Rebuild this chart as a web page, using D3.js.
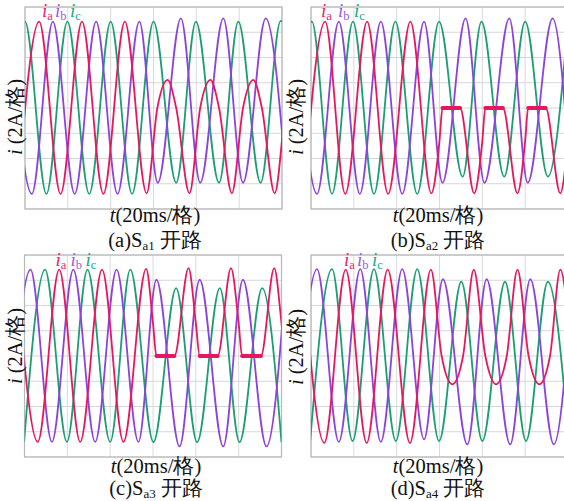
<!DOCTYPE html>
<html><head><meta charset="utf-8">
<script src="https://cdn.jsdelivr.net/npm/d3@7"></script>
<style>body{margin:0;background:#fff;overflow:hidden} svg{display:block}</style>
</head><body>
<script>
// ---- data (time in 20 ms divisions, current in 2 A divisions) ----
const panelLetters = ["a", "b", "c", "d"];
const switchNames = ["a1", "a2", "a3", "a4"];
const phaseSubs = ["a", "b", "c"];
const xGrid = [0, 1, 2, 3, 4, 5, 6];
const yGrid = [-4, -3, -2, -1, 0, 1, 2, 3, 4];

// (a) Sa1 open
const ia_1 = [[-0.17,-3.4],[0.33,3.42],[0.83,-3.4],[1.33,3.42],[1.83,-3.4],[2.33,3.42],[2.84,-3.38],[3.09,0],[3.33,1.11],[3.53,0],[3.84,-3.38],[4.09,0],[4.33,1.11],[4.53,0],[4.83,-3.38],[5.09,0],[5.33,1.11],[5.53,0],[5.83,-3.38],[6.09,0],[6.33,1.11]];
const ib_1 = [[-0.35,3.42],[0.16,-3.4],[0.65,3.42],[1.16,-3.4],[1.66,3.42],[2.16,-3.4],[2.67,3.42],[3.1,-2.96],[3.64,3.55],[4.09,-2.96],[4.63,3.55],[5.09,-2.96],[5.62,3.55],[6.1,-2.96]];
const ic_1 = [[-0.5,-3.4],[0.0,3.42],[0.5,-3.4],[0.99,3.42],[1.5,-3.4],[2.0,3.42],[2.5,-3.4],[3.0,3.42],[3.53,-2.96],[3.99,3.42],[4.53,-2.96],[4.98,3.42],[5.5,-2.96],[5.97,3.45],[6.5,-2.96]];
// (b) Sa2 open
const ia_2 = [[-0.17,-3.4],[0.33,3.42],[0.8,-3.4],[1.31,3.42],[1.8,-3.4],[2.32,3.42],[2.81,-3.38],[3.0,-1.3],[3.07,0],[3.48,0],[3.81,-3.38],[4.0,-1.3],[4.07,0],[4.48,0],[4.82,-3.38],[5.0,-1.3],[5.07,0],[5.48,0],[5.82,-3.38],[6.0,-1.3],[6.07,0]];
const ib_2 = [[-0.35,3.42],[0.14,-3.4],[0.65,3.42],[1.14,-3.4],[1.63,3.42],[2.13,-3.4],[2.64,3.42],[3.07,-2.96],[3.61,3.55],[4.05,-2.96],[4.63,3.55],[5.06,-2.96],[5.64,3.55],[6.06,-2.96]];
const ic_2 = [[-0.5,-3.4],[0.02,3.42],[0.49,-3.4],[0.98,3.42],[1.47,-3.4],[1.97,3.42],[2.48,-3.4],[2.99,3.42],[3.54,-2.72],[3.98,3.42],[4.51,-2.72],[5.0,3.42],[5.53,-2.72],[6.0,3.42]];
// (c) Sa3 open
const ia_3 = [[-0.19,3.42],[0.31,-3.4],[0.81,3.42],[1.3,-3.4],[1.81,3.42],[2.31,-3.4],[2.84,3.45],[3.0,1.3],[3.08,0],[3.5,0],[3.83,3.48],[4.0,1.3],[4.09,0],[4.51,0],[4.82,3.48],[5.0,1.3],[5.08,0],[5.52,0],[5.83,3.48],[6.0,1.3],[6.08,0]];
const ib_3 = [[-0.36,-3.4],[0.14,3.42],[0.64,-3.4],[1.14,3.42],[1.65,-3.4],[2.15,3.42],[2.66,-3.4],[3.08,3.02],[3.62,-3.58],[4.09,3.02],[4.64,-3.58],[5.1,3.02],[5.65,-3.58],[6.1,3.02]];
const ic_3 = [[-0.01,-3.4],[0.48,3.42],[0.99,-3.4],[1.47,3.42],[2.0,-3.4],[2.47,3.42],[3.01,-3.41],[3.54,2.69],[4.03,-3.41],[4.56,2.69],[5.02,-3.41],[5.55,2.69],[6.0,-3.41]];
// (d) Sa4 open
const ia_4 = [[-0.19,3.42],[0.31,-3.44],[0.81,3.42],[1.3,-3.44],[1.79,3.42],[2.31,-3.44],[2.8,3.42],[3.05,0],[3.3,-1.12],[3.55,0],[3.8,3.42],[4.07,0],[4.32,-1.12],[4.57,0],[4.82,3.42],[5.08,0],[5.33,-1.12],[5.58,0],[5.82,3.42],[6.08,0]];
const ib_4 = [[-0.36,-3.4],[0.14,3.44],[0.65,-3.4],[1.15,3.44],[1.63,-3.4],[2.13,3.44],[2.64,-3.3],[3.08,3.04],[3.65,-3.5],[4.1,3.04],[4.65,-3.5],[5.12,3.04],[5.67,-3.5],[6.1,3.04]];
const ic_4 = [[-0.02,-3.37],[0.49,3.44],[0.97,-3.37],[1.47,3.44],[1.98,-3.37],[2.48,3.44],[2.99,-3.37],[3.51,2.94],[4.0,-3.37],[4.53,2.94],[5.02,-3.37],[5.53,2.94],[6.02,-3.37]];

const panelData = [[ia_1, ib_1, ic_1], [ia_2, ib_2, ic_2], [ia_3, ib_3, ic_3], [ia_4, ib_4, ic_4]];

// ---- layout & style ----
const colors = ["#e8175d", "#8c43dc", "#1c9e74"];
const legendColors = ["#ec1c6c", "#9d5ae0", "#1aa97e"];
const layout = [
  {x: 25, y: 7, ylabX: 22, ylabY: 117, xlabY: 222, capY: 247, cx: 155, leg: [17, 30, 45], legY: 17},
  {x: 311, y: 7, ylabX: 303, ylabY: 117, xlabY: 222, capY: 247, cx: 438, leg: [10, 27, 43], legY: 17},
  {x: 24.5, y: 255, ylabX: 22, ylabY: 346, xlabY: 473, capY: 495, cx: 156, leg: [31, 46, 61], legY: 266},
  {x: 311, y: 255, ylabX: 303, ylabY: 347, xlabY: 473, capY: 495, cx: 438, leg: [33, 46, 61], legY: 266}
];
const W = 257, H = 202;
const serif = "'Liberation Serif','Times New Roman',serif";
const fs = 20.5;

const svg = d3.select("body").append("svg").attr("width", 564).attr("height", 501);
const x = d3.scaleLinear().domain([0, 6]).range([0, W]);
const y = d3.scaleLinear().domain([-4, 4]).range([H, 0]);
const line = d3.line().x(d => x(d[0])).y(d => y(d[1])).curve(d3.curveMonotoneX);

panelData.forEach((series, i) => {
  const L = layout[i];
  const g = svg.append("g").attr("transform", `translate(${L.x},${L.y})`);
  svg.append("defs").append("clipPath").attr("id", "clip" + i)
    .append("rect").attr("width", W).attr("height", H);
  g.append("rect").attr("width", W).attr("height", H).attr("fill", "#fff");
  g.selectAll(".vg").data(xGrid).join("line")
    .attr("x1", d => x(d)).attr("x2", d => x(d)).attr("y1", 0).attr("y2", H)
    .attr("stroke", "#dadada").attr("stroke-width", 1);
  g.selectAll(".hg").data(yGrid).join("line")
    .attr("y1", d => y(d)).attr("y2", d => y(d)).attr("x1", 0).attr("x2", W)
    .attr("stroke", "#d6d6d6").attr("stroke-width", 1);
  g.append("rect").attr("width", W).attr("height", H).attr("fill", "none")
    .attr("stroke", "#b8b8b8").attr("stroke-width", 1.2);
  const pg = g.append("g").attr("clip-path", `url(#clip${i})`);
  [2, 1, 0].forEach(k => {
    pg.append("path").datum(series[k]).attr("d", line)
      .attr("fill", "none").attr("stroke", colors[k]).attr("stroke-width", 1.8)
      .attr("stroke-linejoin", "round");
  });
  // thicker noisy clamp segments (consecutive zero points in phase a)
  const ia = series[0];
  for (let j = 0; j < ia.length - 1; j++) {
    if (ia[j][1] === 0 && ia[j + 1][1] === 0) {
      pg.append("line").attr("x1", x(ia[j][0])).attr("x2", x(ia[j + 1][0]))
        .attr("y1", y(0)).attr("y2", y(0))
        .attr("stroke", colors[0]).attr("stroke-width", 4).attr("stroke-linecap", "round");
    }
  }
  // legend
  phaseSubs.forEach((s, k) => {
    const t = svg.append("text").attr("x", L.x + L.leg[k]).attr("y", L.legY)
      .attr("fill", legendColors[k]).attr("font-family", serif).attr("font-size", 19);
    t.append("tspan").attr("font-style", "italic").text("i");
    t.append("tspan").attr("font-size", 12.5).attr("dy", 3).text(s);
  });
  // y label
  const yl = svg.append("text").attr("transform", `translate(${L.ylabX},${L.ylabY}) rotate(-90)`)
    .attr("text-anchor", "middle").attr("font-family", serif).attr("font-size", fs).attr("fill", "#111");
  yl.append("tspan").attr("font-style", "italic").text("i");
  yl.append("tspan").text(" (2A/格)");
  // x label
  const xl = svg.append("text").attr("x", L.cx).attr("y", L.xlabY).attr("text-anchor", "middle")
    .attr("font-family", serif).attr("font-size", fs).attr("fill", "#111");
  xl.append("tspan").attr("font-style", "italic").text("t");
  xl.append("tspan").text("(20ms/格)");
  // caption
  const cp = svg.append("text").attr("x", L.cx).attr("y", L.capY).attr("text-anchor", "middle")
    .attr("font-family", serif).attr("font-size", fs).attr("fill", "#111");
  cp.append("tspan").text(`(${panelLetters[i]})S`);
  cp.append("tspan").attr("font-size", 13).attr("dy", 3).text(switchNames[i]);
  cp.append("tspan").attr("dy", -3).text(" 开路");
});
</script>
</body></html>
